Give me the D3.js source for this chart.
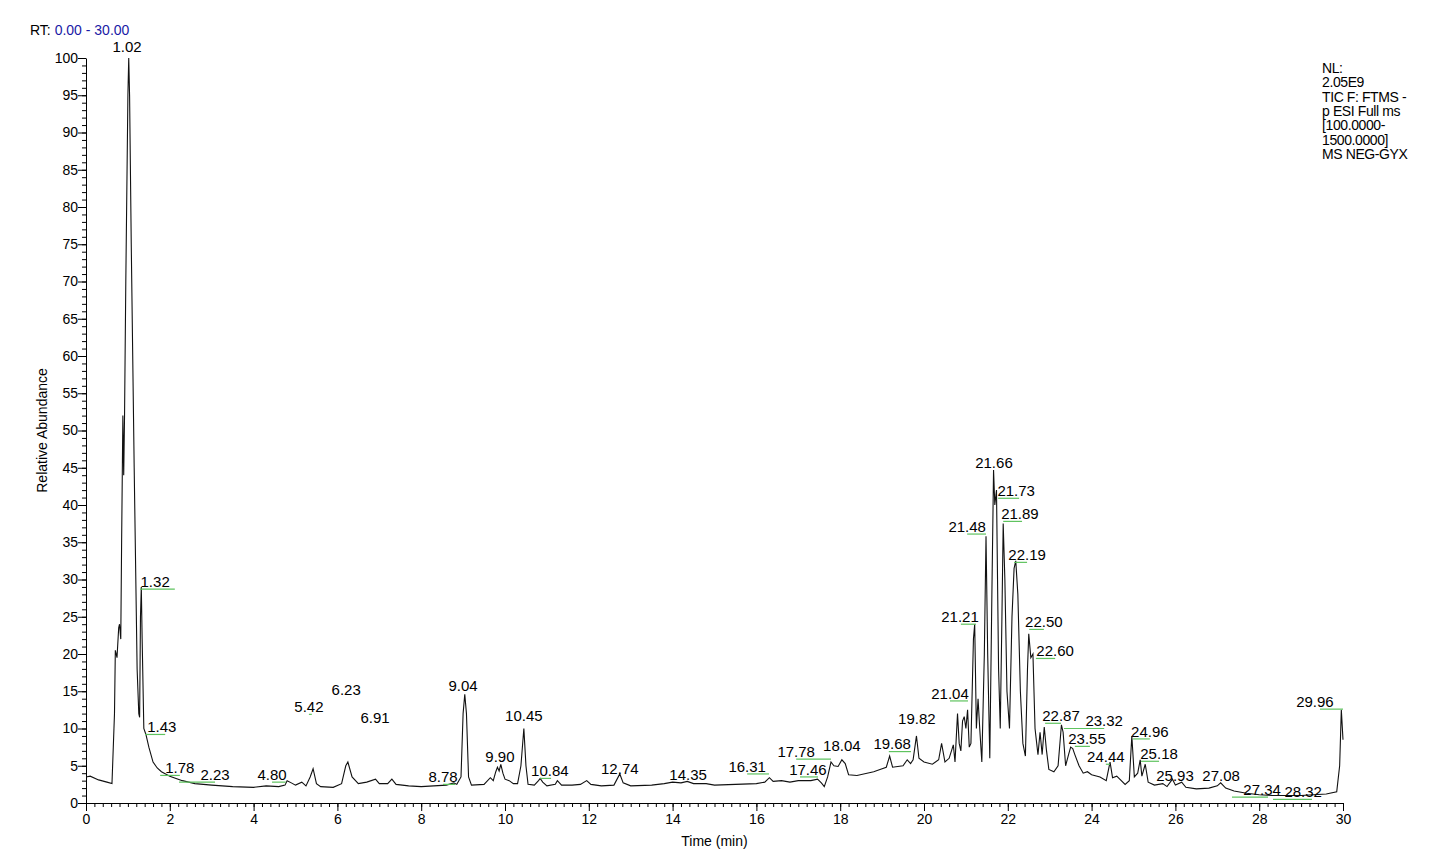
<!DOCTYPE html>
<html>
<head>
<meta charset="utf-8">
<script src="https://cdn.jsdelivr.net/npm/d3@7"></script>
<style>
  body { margin: 0; background: #fff; }
  text { font-family: "Liberation Sans", Arial, sans-serif; }
</style>
</head>
<body>
<svg id="chart"></svg>
<script>
// retention time (min) and relative abundance of the TIC trace
const times = [0,0.1,0.3,0.5,0.62,0.68,0.7,0.74,0.78,0.8,0.83,0.85,0.88,0.9,0.92,0.95,1.0,1.02,1.04,1.08,1.15,1.22,1.26,1.28,1.3,1.32,1.34,1.38,1.43,1.5,1.6,1.7,1.8,2.0,2.3,2.6,3.0,3.5,4.0,4.3,4.6,4.75,4.8,4.9,5.0,5.15,5.25,5.35,5.42,5.5,5.6,5.9,6.1,6.2,6.25,6.35,6.5,6.7,6.91,7.0,7.2,7.3,7.4,7.7,8.0,8.3,8.6,8.78,8.85,8.95,9.0,9.04,9.08,9.13,9.2,9.5,9.65,9.72,9.78,9.82,9.86,9.9,9.95,10.0,10.1,10.2,10.3,10.38,10.45,10.5,10.55,10.7,10.8,10.84,10.9,11.0,11.2,11.25,11.35,11.6,11.8,11.95,12.05,12.3,12.6,12.74,12.82,13.0,13.5,13.8,14.0,14.2,14.35,14.5,14.8,15.0,15.5,16.0,16.2,16.31,16.4,16.6,16.8,17.0,17.3,17.46,17.55,17.62,17.7,17.78,17.85,17.95,18.04,18.12,18.2,18.4,18.8,19.0,19.1,19.18,19.25,19.5,19.6,19.68,19.74,19.82,19.88,20.0,20.2,20.35,20.42,20.5,20.6,20.7,20.74,20.8,20.84,20.88,20.92,20.96,21.0,21.04,21.08,21.12,21.18,21.21,21.25,21.29,21.33,21.38,21.44,21.48,21.52,21.57,21.62,21.66,21.69,21.73,21.78,21.82,21.86,21.89,21.93,21.98,22.04,22.1,22.15,22.19,22.24,22.3,22.36,22.42,22.47,22.5,22.55,22.6,22.65,22.72,22.77,22.82,22.87,22.92,22.98,23.1,23.2,23.28,23.32,23.38,23.45,23.5,23.55,23.6,23.7,23.8,23.9,24.0,24.2,24.35,24.44,24.5,24.6,24.8,24.9,24.96,25.02,25.1,25.16,25.2,25.28,25.35,25.5,25.7,25.8,25.93,26.0,26.15,26.25,26.5,26.8,27.0,27.08,27.2,27.4,27.7,28.0,28.32,28.7,29.0,29.3,29.6,29.85,29.92,29.96,30.0];
const abundance = [3.5,3.6,3.1,2.8,2.6,12,20.5,19.5,23.5,24,22,35,52,44,52,70,95,100,95,75,45,18,12,11.5,25,29,22,10,9.2,7.5,5.5,4.7,4.2,3.6,3.0,2.6,2.4,2.2,2.1,2.3,2.2,2.4,3.0,2.7,2.4,2.8,2.3,3.5,4.6,2.6,2.2,2.1,2.6,5.0,5.5,3.5,2.6,2.8,3.2,2.6,2.6,3.2,2.5,2.3,2.2,2.3,2.4,2.7,2.5,3.5,12,14.6,12,3.5,2.4,2.5,3.4,3.0,4.2,4.8,4.3,5.2,4.0,3.2,3.0,2.6,2.6,5,10,5,2.5,2.4,3.0,3.3,2.8,2.3,2.5,3.0,2.4,2.4,2.5,3.0,2.5,2.3,2.4,3.9,2.7,2.3,2.4,2.6,2.8,2.7,2.9,2.6,2.6,2.4,2.5,2.6,2.8,3.4,2.9,3.0,2.8,3.0,3.0,3.2,2.7,2.2,3.5,5.5,5.0,4.9,5.8,5.3,3.8,3.7,4.2,4.6,4.8,6.3,4.8,5.0,5.8,5.3,5.8,9.0,6.0,5.5,5.2,5.8,8.0,5.5,6,7.8,5.5,12,8,7,11,11.6,10,12.5,7.5,8,22,24,10,14,10,5.5,20,35.8,20,6,28,44.7,40,42,18,10,25,37.5,30,15,10,25,31.5,32.5,28,15,8,6.3,18,22.7,19.5,20,10,6.5,9.5,6.5,10.2,7.2,4.5,4.2,5.0,10.5,9.5,5.0,6.5,7.5,7.3,6.5,5.0,4.0,4.2,3.8,3.5,3.0,5.5,3.4,3.6,2.5,3.0,9.0,3.5,4.0,5.8,3.6,5.2,2.8,2.4,2.6,2.2,3.2,2.4,2.8,2.1,1.9,2.0,2.3,2.7,2.0,1.6,1.3,1.1,1.0,1.0,1.0,1.1,1.2,1.5,5,12.5,8.5];

// peak labels: text, label centre time, label baseline abundance, green line start/end time (null = none)
const peakLabels = ["1.02","1.32","1.43","1.78","2.23","4.80","5.42","6.23","6.91","8.78","9.04","9.90","10.45","10.84","12.74","14.35","16.31","17.46","17.78","18.04","19.68","19.82","21.04","21.21","21.48","21.66","21.73","21.89","22.19","22.50","22.60","22.87","23.32","23.55","24.44","24.96","25.18","25.93","27.08","27.34","28.32","29.96"];
const labelTimes = [0.98,1.65,1.81,2.24,3.08,4.44,5.32,6.21,6.90,8.52,9.00,9.88,10.45,11.07,12.74,14.37,15.78,17.23,16.95,18.04,19.24,19.83,20.62,20.86,21.03,21.67,22.20,22.29,22.46,22.86,23.13,23.27,24.30,23.89,24.34,25.39,25.61,25.99,27.09,28.07,29.05,29.33];
const labelValues = [100.8,29.0,9.5,4.0,3.1,3.1,12.2,14.5,10.7,2.8,15.0,5.5,11.0,3.6,3.9,3.1,4.2,3.8,6.2,7.0,7.2,10.6,14.0,24.3,36.4,45.0,41.2,38.1,32.6,23.6,19.7,11.0,10.3,7.9,5.5,8.9,5.9,2.95,2.95,1.1,0.8,12.9];
const greenStart = [null,1.29,1.41,1.77,2.22,4.44,5.32,null,null,8.52,null,null,null,10.84,null,null,15.78,17.04,16.95,null,19.16,null,20.62,20.88,21.03,null,21.77,21.89,22.15,22.51,22.67,22.89,23.34,23.60,24.34,24.99,25.18,null,null,27.35,28.33,29.45];
const greenEnd = [null,2.12,1.89,2.24,3.08,4.77,5.39,null,null,8.81,null,null,null,11.10,null,null,16.30,17.47,17.78,null,19.69,null,21.05,21.24,21.48,null,22.27,22.34,22.46,22.86,23.13,23.27,24.30,23.96,24.44,25.39,25.61,null,null,28.21,29.26,30.0];

const xTicks = d3.range(0, 31, 2);
const yTicks = d3.range(0, 101, 5);
const infoLines = ["NL:", "2.05E9", "TIC F: FTMS -", "p ESI Full ms", "[100.0000-", "1500.0000]", "MS NEG-GYX"];

const svgWidth = 1437, svgHeight = 868;
const margin = { top: 58, right: 94, bottom: 65, left: 86 };
const width = svgWidth - margin.left - margin.right;
const height = svgHeight - margin.top - margin.bottom;

const svg = d3.select("#chart").attr("width", svgWidth).attr("height", svgHeight);
const chart = svg.append("g").attr("transform", "translate(" + margin.left + "," + margin.top + ")");

const xScale = d3.scaleLinear().domain([0, 30]).range([0, width]);
const yScale = d3.scaleLinear().domain([0, 100]).range([height, 0]);

// minor ticks first, then major axes on top
chart.append("g")
  .attr("transform", "translate(0," + height + ")")
  .call(d3.axisBottom(xScale).tickValues(d3.range(0, 30.01, 0.2)).tickSize(4).tickFormat(""))
  .call(g => g.select(".domain").remove());
chart.append("g")
  .call(d3.axisLeft(yScale).tickValues(d3.range(0, 101, 1)).tickSize(4).tickFormat(""))
  .call(g => g.select(".domain").remove());

const xAxisGroup = chart.append("g")
  .attr("transform", "translate(0," + height + ")")
  .call(d3.axisBottom(xScale).tickValues(xTicks).tickSize(8).tickSizeOuter(0));
xAxisGroup.selectAll("text").attr("font-size", 14).attr("fill", "#000");

const yAxisGroup = chart.append("g")
  .call(d3.axisLeft(yScale).tickValues(yTicks).tickSize(8).tickSizeOuter(0));
yAxisGroup.selectAll("text").attr("font-size", 14).attr("fill", "#000").attr("dx", 3);

svg.selectAll(".tick line, .domain").attr("stroke", "#000").attr("stroke-width", 1);

// trace
const line = d3.line().x((d, i) => xScale(times[i])).y(d => yScale(d));
chart.append("path")
  .datum(abundance)
  .attr("fill", "none")
  .attr("stroke", "#111")
  .attr("stroke-width", 1.1)
  .attr("d", line);

// green label lines
chart.selectAll(".green")
  .data(peakLabels.map((t, i) => i).filter(i => greenStart[i] !== null))
  .enter().append("line")
  .attr("x1", i => xScale(greenStart[i]))
  .attr("x2", i => xScale(greenEnd[i]))
  .attr("y1", i => yScale(labelValues[i] - 0.3))
  .attr("y2", i => yScale(labelValues[i] - 0.3))
  .attr("stroke", "#5fc35f")
  .attr("stroke-width", 1.2);

// peak labels
chart.selectAll(".peak")
  .data(peakLabels)
  .enter().append("text")
  .attr("x", (d, i) => xScale(labelTimes[i]))
  .attr("y", (d, i) => yScale(labelValues[i]))
  .attr("text-anchor", "middle")
  .attr("font-size", 15)
  .text(d => d);

// header, axis titles, info block
const rt = svg.append("text").attr("x", 30).attr("y", 35).attr("font-size", 14);
rt.append("tspan").text("RT: ");
rt.append("tspan").attr("fill", "#1a1aa6").text("0.00 - 30.00");

svg.append("text")
  .attr("transform", "translate(47," + (margin.top + height / 2) + ") rotate(-90)")
  .attr("text-anchor", "middle").attr("font-size", 14)
  .text("Relative Abundance");

svg.append("text")
  .attr("x", margin.left + width / 2).attr("y", 846)
  .attr("text-anchor", "middle").attr("font-size", 14)
  .text("Time (min)");

svg.append("g").selectAll("text")
  .data(infoLines)
  .enter().append("text")
  .attr("x", 1322)
  .attr("y", (d, i) => 73 + i * 14.3)
  .attr("font-size", 14)
  .attr("letter-spacing", -0.4)
  .text(d => d);
</script>
</body>
</html>
